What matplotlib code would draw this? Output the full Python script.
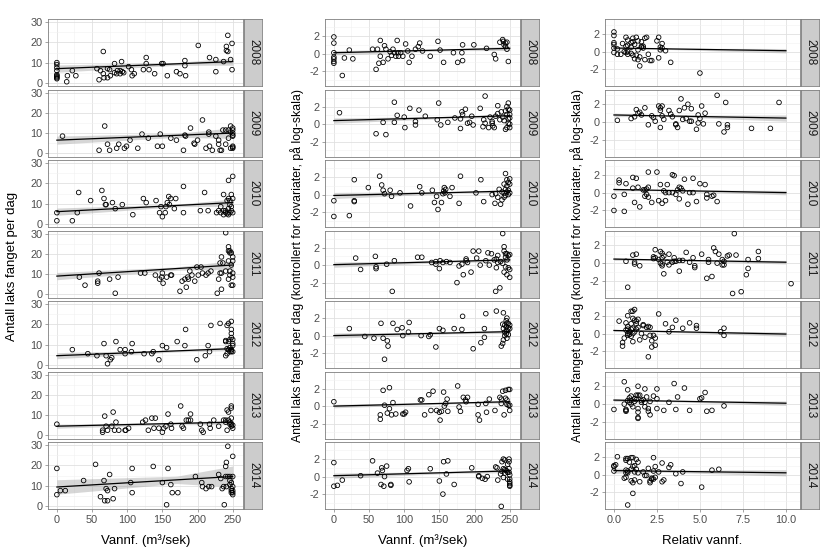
import numpy as np
import matplotlib
matplotlib.use("Agg")
import matplotlib.pyplot as plt
from matplotlib.ticker import MultipleLocator, FormatStrFormatter

plt.rcParams["font.family"] = ["Liberation Sans", "DejaVu Sans"]
plt.rcParams["axes.unicode_minus"] = False

years = [2008, 2009, 2010, 2011, 2012, 2013, 2014]

# column 1: raw catch per day vs water flow (m3/s)
raw_2008 = [(0,10),(0,9),(0,7.5),(0,6),(0,4),(0,3.5),(0,3),(0,2.5),(0,2),(14,0.5),(15,3.5),(22,6),(27,3.5),(57,7),(60,1.5),(62,6),(66,15.5),(66,4.5),(67,2.5),(72,7),(72,2.5),(75,6.5),(76,3.5),(82,9.5),(82,5),(85,4.5),(86,6),(90,4.5),(90,6),(92,10.5),(93,5.5),(95,5),(102,8),(106,6.5),(107,3.5),(110,4.5),(123,6.5),(127,12.5),(127,9.5),(131,6.5),(139,4.5),(149,9.5),(151,9.5),(157,3.5),(170,5.5),(175,4.5),(182,11),(182,8.5),(183,3.5),(201,18.5),(217,12.5),(226,11.5),(226,5.5),(237,10.5),(241,16),(241,18),(243,23.5),(243,15.5),(247,11.5),(249,19.5),(249,6.5)]
raw_2009 = [(8,8.5),(60,1.5),(68,13.5),(72,4.5),(75,1.5),(85,2.5),(88,4.5),(96,2.5),(99,3.5),(104,6.5),(115,2.5),(121,9.5),(130,7.5),(143,3.5),(147,9.5),(150,3.5),(162,7.5),(170,6.5),(180,1.5),(182,9),(183,8.5),(190,12.5),(195,5),(196,4.5),(200,6.5),(207,16.5),(212,2.5),(216,10.5),(216,9.5),(217,3.5),(221,1.5),(226,8.5),(230,6.5),(230,4.5),(232,1.5),(234,1.5),(236,11.5),(240,11.5),(240,4.5),(244,11.5),(244,7.5),(247,13.5),(247,10.5),(247,2.5),(250,12.5),(250,11.5),(250,10),(250,9),(250,8.5),(250,3.5),(250,3),(250,2.5)]
raw_2010 = [(0,5.5),(0,1.5),(22,1.5),(29,5.5),(31,15.5),(48,11.5),(64,16.5),(67,12.5),(69,9.5),(70,9.5),(79,10.5),(83,7.5),(93,9.5),(108,4.5),(123,12.5),(127,10.5),(141,11.5),(146,5.5),(148,8.5),(150,3.5),(154,5.5),(155,8.5),(157,10.5),(159,13.5),(160,9.5),(162,12.5),(167,7.5),(169,12.5),(180,18.5),(180,5.5),(204,6.5),(210,15.5),(215,6.5),(227,5.5),(230,6.5),(233,8.5),(233,5.5),(237,14.5),(237,6.5),(237,4.5),(240,6.5),(240,5.5),(242,11.5),(242,5),(244,21.5),(244,12.5),(244,7.5),(244,4.5),(246,11.5),(246,9.5),(246,5.5),(248,14.5),(248,8.5),(248,6.5),(250,23.5),(250,12.5),(250,5.5)]
raw_2011 = [(32,8.5),(40,4.5),(58,6.5),(58,5.5),(60,10.5),(75,7.5),(83,0.5),(87,8.5),(119,10.5),(125,10.5),(140,9.5),(146,7.5),(149,8.5),(150,10.5),(151,5.5),(156,8.5),(162,9.5),(163,9.5),(175,1.5),(178,6.5),(182,7.5),(184,3.5),(186,8.5),(187,7.5),(189,11.5),(192,9.5),(196,6.5),(199,13.5),(201,9.5),(205,13.5),(207,10.5),(212,9.5),(215,10.5),(219,11.5),(228,0.5),(230,7.5),(232,15.5),(232,10.5),(234,18.5),(234,10.5),(234,2.5),(236,15.5),(240,30.5),(240,11.5),(244,23.5),(244,21.5),(244,16.5),(244,7.5),(246,21.5),(246,20.5),(246,11.5),(246,9.5),(248,20.5),(248,14.5),(248,4.5),(250,18.5),(250,16.5),(250,10.5),(250,8.5),(250,4.5)]
raw_2012 = [(22,7.5),(44,5.5),(57,4.5),(67,10.5),(70,4.5),(72,0.5),(76,2.5),(78,3.5),(84,11.5),(90,7.5),(97,7.5),(97,5.5),(106,6.5),(107,10.5),(124,5.5),(135,5.5),(137,6.5),(145,2.5),(150,9.5),(156,8.5),(171,11.5),(182,9.5),(183,17.5),(199,2.5),(211,4.5),(215,9.5),(217,6.5),(219,19.5),(232,20.5),(240,4.5),(240,11.5),(240,12),(242,19.5),(242,5.5),(242,8),(244,20.5),(244,7.5),(244,11.5),(246,12.5),(246,8.5),(246,6.5),(248,21.5),(248,17.5),(248,15.5),(248,13.5),(248,7.5),(248,6.5),(250,12.5),(250,10.5),(250,9.5),(250,6.5)]
raw_2013 = [(0,5.5),(65,2.5),(65,1.5),(68,9.5),(70,4.5),(72,2.5),(78,4.5),(80,11.5),(82,2.5),(84,6.5),(88,2.5),(97,2.5),(98,2.5),(102,3.5),(122,6.5),(126,7.5),(130,2.5),(135,8.5),(138,3.5),(140,8.5),(145,3.5),(150,1.5),(152,3.5),(155,4.5),(158,10.5),(162,5.5),(163,3.5),(176,14.5),(178,4.5),(180,3.5),(184,7.5),(187,7.5),(190,10.5),(190,7.5),(204,5.5),(206,2.5),(208,1.5),(217,5.5),(218,3.5),(223,7.5),(230,4.5),(237,7.5),(240,7.5),(240,6.5),(242,12.5),(242,2.5),(244,11.5),(244,7.5),(246,6.5),(246,5.5),(248,14.5),(248,13.5),(248,8.5),(248,5.5),(248,4.5),(250,5),(250,3.5)]
raw_2014 = [(0,18.5),(0,5.5),(5,7.5),(12,7.5),(38,12.5),(55,20.5),(62,4.5),(67,12.5),(68,2.5),(70,8.5),(72,2.5),(72,7.5),(75,15.5),(80,3.5),(82,8.5),(105,11.5),(107,18.5),(107,6.5),(137,19.5),(150,11.5),(156,0.5),(158,18.5),(162,10.5),(164,6.5),(172,6.5),(197,14.5),(206,11.5),(207,9.5),(212,8.5),(216,9.5),(220,9.5),(230,15.5),(233,13.5),(235,8.5),(237,9.5),(238,0.5),(240,19.5),(240,14.5),(241,21.5),(241,9.5),(243,29.5),(243,14.5),(246,14.5),(246,12.5),(246,10.5),(248,11.5),(248,8.5),(248,6.5),(248,7.5),(250,24.5),(250,14.5),(250,9.5),(250,7.5),(250,6.5),(250,5.5)]

# column 2: adjusted catch (log scale) vs water flow
adj_2008 = [(0,1.9),(0,1.2),(0,0.1),(0,-0.4),(0,-0.6),(0,-0.9),(0,-1.1),(12,-2.5),(15,-0.5),(22,0.4),(27,-0.6),(55,0.5),(60,-1.8),(62,0.5),(64,-1.1),(66,1.5),(66,-0.3),(70,-1.0),(72,0.9),(74,0.5),(77,-0.6),(80,0.2),(82,-0.2),(84,0.5),(86,0.1),(88,-0.3),(90,1.5),(91,0.1),(92,-0.3),(95,0.1),(98,-0.3),(102,1.1),(105,0.3),(107,-1.0),(111,-0.3),(116,0.5),(120,0.8),(122,1.2),(126,0.3),(137,-0.3),(148,1.4),(151,0.4),(156,-1.0),(170,0.1),(176,-1.0),(182,0.1),(183,-0.8),(183,1.0),(199,1.0),(217,0.6),(228,-0.1),(230,-0.6),(236,1.3),(240,1.6),(241,1.4),(242,1.0),(244,1.2),(244,0.8),(246,0.5),(246,1.3),(248,-0.9)]
adj_2009 = [(8,1.3),(60,-1.1),(70,0.2),(74,-1.2),(86,2.5),(86,0.2),(90,1.0),(100,0.8),(101,-0.4),(108,1.8),(116,0.3),(116,-0.1),(121,1.6),(130,0.9),(147,0.5),(149,2.4),(152,-0.1),(162,0.2),(172,0.7),(180,0.6),(180,-0.5),(182,1.4),(183,1.1),(187,1.7),(190,0.1),(193,0.2),(196,0.9),(198,-0.1),(208,1.8),(212,-0.3),(213,0.5),(215,3.2),(215,0.1),(220,-0.4),(222,0.8),(225,0.3),(225,0.1),(226,-0.2),(228,-0.4),(230,0.9),(233,2.1),(233,1.2),(236,0.5),(238,1.4),(240,0.8),(242,0.4),(244,1.5),(244,-0.6),(246,2.0),(246,1.1),(246,-0.4),(248,2.4),(248,1.7),(248,0.6),(248,0.1),(250,1.6),(250,1.1),(250,0.7),(250,0.0),(250,-0.4)]
adj_2010 = [(0,-0.7),(0,-2.5),(22,-2.4),(29,1.7),(29,-0.7),(29,-0.8),(49,0.8),(65,2.1),(68,1.1),(70,0.5),(72,0.1),(80,0.5),(82,-0.2),(94,0.2),(109,-1.3),(122,0.9),(125,0.2),(140,0.5),(143,-0.9),(146,-0.2),(148,-1.7),(153,-0.9),(155,0.1),(156,0.4),(157,0.8),(158,0.2),(159,0.6),(165,-0.2),(168,0.8),(178,-1.0),(180,2.1),(202,0.2),(209,1.7),(213,-0.8),(225,0.0),(229,-1.0),(230,0.1),(233,-0.3),(235,0.6),(237,-1.1),(239,0.3),(239,-0.6),(242,1.2),(242,0.2),(242,-0.3),(244,2.4),(244,0.6),(244,-0.1),(246,1.7),(246,1.0),(246,0.3),(248,1.4),(248,0.5),(248,0.0),(250,1.8),(250,1.2),(250,0.2)]
adj_2011 = [(31,0.8),(38,-0.5),(59,1.0),(60,-0.2),(60,-0.4),(75,0.1),(83,-3.0),(86,0.5),(119,0.9),(125,0.9),(139,0.3),(145,0.1),(145,0.4),(150,-0.4),(151,0.5),(155,0.3),(160,0.4),(165,0.3),(175,-2.0),(178,-0.1),(182,0.1),(184,-1.1),(188,0.5),(188,0.7),(190,0.3),(195,-0.8),(198,1.6),(203,0.8),(206,1.6),(208,0.0),(216,0.5),(219,1.4),(221,0.0),(224,1.3),(228,0.6),(230,-3.0),(231,-0.3),(231,0.7),(233,1.1),(233,0.3),(236,-2.6),(237,0.4),(240,3.6),(240,0.2),(242,2.1),(242,1.6),(242,-0.8),(244,1.3),(244,0.9),(244,-0.2),(246,1.3),(246,0.6),(246,-1.1),(248,1.1),(248,-0.3),(250,1.2),(250,-0.5),(250,-1.4)]
adj_2012 = [(22,0.8),(44,-0.1),(57,-0.3),(67,1.4),(70,-0.3),(72,-2.7),(76,-0.6),(77,-1.2),(84,1.4),(90,0.7),(97,0.9),(98,0.0),(106,0.4),(107,1.5),(124,0.0),(135,-0.1),(137,0.1),(145,-1.3),(150,0.8),(155,0.6),(171,0.8),(182,0.7),(183,2.2),(198,-1.5),(209,-0.8),(214,0.8),(214,-0.2),(216,2.5),(231,2.8),(238,-1.2),(240,1.3),(240,-0.9),(241,2.6),(241,0.8),(241,-0.5),(243,1.2),(243,0.4),(243,0.0),(245,1.7),(245,1.0),(245,0.2),(246,2.0),(246,1.4),(246,0.6),(246,-0.3),(248,1.4),(248,0.9),(248,0.1),(250,1.2),(250,0.8)]
adj_2013 = [(0,0.5),(66,-1.0),(66,-1.5),(70,1.8),(72,0.1),(76,-0.8),(79,2.1),(79,-0.3),(82,-1.0),(84,0.4),(88,-0.9),(98,-0.9),(100,-0.9),(102,-0.7),(123,0.7),(125,0.7),(129,-1.0),(135,1.3),(138,-0.5),(141,1.7),(146,-0.5),(150,-0.7),(151,-1.6),(153,-0.6),(156,1.6),(157,0.0),(159,0.3),(161,0.8),(162,-0.6),(176,2.3),(178,-0.1),(180,-0.6),(184,1.0),(187,0.7),(188,0.5),(190,1.0),(205,0.2),(205,-1.0),(207,-1.6),(216,0.3),(217,-0.7),(221,0.8),(229,-0.5),(236,1.0),(238,0.8),(238,0.3),(240,1.7),(242,-1.0),(244,1.8),(244,0.9),(246,0.7),(246,0.2),(248,1.9),(248,0.1),(250,1.9),(250,0.1),(250,-0.5)]
adj_2014 = [(0,1.6),(0,-1.1),(5,-1.0),(12,-0.4),(38,0.1),(55,1.8),(62,0.4),(67,-0.9),(68,1.0),(69,0.7),(71,-1.1),(72,0.0),(75,1.2),(81,-0.9),(81,-1.0),(104,0.7),(106,0.9),(107,-0.6),(137,0.9),(150,-0.5),(155,-2.0),(156,1.7),(162,1.8),(160,0.3),(171,-0.9),(196,1.0),(206,0.1),(206,0.0),(211,-0.2),(215,-0.3),(218,0.0),(230,1.1),(232,1.0),(233,-0.4),(237,0.3),(238,-3.4),(239,1.7),(239,0.6),(241,2.0),(241,0.9),(241,-0.1),(243,1.9),(243,0.8),(243,0.4),(245,0.7),(247,1.4),(247,0.5),(247,-0.3),(249,2.0),(249,1.7),(249,0.9),(249,0.5),(250,0.2),(250,-0.3),(250,-0.6),(250,-0.8),(250,-1.0),(250,-1.1)]

# column 3: adjusted catch vs relative water flow
rel_2008 = [(0,2.2),(0,1.8),(0,1.0),(0,0.8),(0,0.4),(0,-0.1),(0.2,0.3),(0.2,-0.3),(0.4,-0.3),(0.5,0.9),(0.6,0.0),(0.7,1.6),(0.7,0.6),(0.7,-0.1),(0.8,1.3),(0.8,0.7),(0.8,0.0),(0.8,-0.3),(1.0,1.0),(1.0,0.5),(1.0,-0.2),(1.1,1.5),(1.1,1.1),(1.1,-0.4),(1.2,0.8),(1.2,-0.8),(1.3,1.6),(1.3,-0.4),(1.4,1.2),(1.4,0.2),(1.4,-0.9),(1.5,-0.6),(1.5,-1.6),(1.6,1.1),(1.6,0.5),(1.6,0.6),(1.7,0.6),(1.7,0.4),(1.8,1.5),(1.8,-0.9),(1.9,1.6),(2.0,-0.3),(2.1,-1.0),(2.2,-1.0),(2.5,1.2),(2.6,1.6),(2.6,-0.7),(2.7,0.5),(2.7,0.2),(2.8,0.9),(2.8,0.4),(3.0,0.1),(3.3,-1.2),(5.0,-2.4)]
rel_2009 = [(0.2,0.2),(1.0,0.4),(1.2,0.6),(1.3,1.4),(1.4,1.0),(1.5,1.1),(1.6,0.8),(1.8,1.6),(2.0,-0.3),(2.2,0.7),(2.3,0.5),(2.4,0.1),(2.6,1.8),(2.7,1.6),(2.7,1.3),(2.7,-0.6),(2.8,1.8),(2.8,0.7),(2.9,0.3),(3.2,1.3),(3.3,0.9),(3.4,0.6),(3.6,-0.2),(3.6,-0.3),(3.7,-0.6),(3.8,1.3),(3.9,2.6),(4.0,0.3),(4.1,1.6),(4.2,0.4),(4.3,2.0),(4.4,0.1),(4.5,1.5),(4.5,0.1),(4.8,-0.8),(4.9,0.8),(4.9,-0.1),(5.0,0.4),(5.1,1.8),(5.2,-0.2),(5.3,1.0),(6.0,3.0),(6.1,-0.2),(6.4,-1.1),(6.5,2.2),(6.6,-0.3),(6.6,-0.6),(8.0,-0.7),(9.1,-0.7),(9.6,2.2)]
rel_2010 = [(0,-0.4),(0,-2.0),(0.3,1.4),(0.3,1.1),(0.6,-0.2),(0.6,-2.1),(0.7,1.0),(1.1,1.7),(1.1,0.5),(1.2,-1.1),(1.3,1.6),(1.4,0.6),(1.5,-1.6),(1.7,0.3),(1.8,0.3),(1.8,-0.4),(1.9,0.4),(1.9,-0.2),(2.0,2.3),(2.0,0.6),(2.0,-0.5),(2.2,-1.1),(2.5,2.3),(2.6,-0.9),(2.7,0.9),(2.8,-1.2),(2.9,0.2),(3.0,-0.9),(3.0,0.0),(3.1,0.9),(3.2,0.0),(3.4,2.0),(3.4,0.0),(3.5,1.9),(3.6,-0.2),(3.7,0.3),(3.8,0.6),(3.8,-0.7),(3.9,0.5),(4.0,0.2),(4.1,1.5),(4.3,-1.3),(4.4,0.0),(4.6,1.6),(4.6,0.0),(4.8,-1.0),(5.0,1.0),(5.3,0.9),(5.4,-0.2),(5.4,-0.6),(5.7,-0.4),(5.8,-0.3),(6.0,-1.0)]
rel_2011 = [(0.7,0.2),(0.8,-2.7),(1.1,0.9),(1.2,0.1),(1.2,-0.1),(1.3,1.0),(1.5,-0.3),(2.3,0.5),(2.3,0.7),(2.4,1.5),(2.4,0.6),(2.6,0.4),(2.7,1.3),(2.7,0.0),(2.8,1.1),(2.8,0.6),(2.8,-0.1),(2.8,-0.3),(2.9,0.8),(2.9,-1.2),(3.1,0.1),(3.2,1.0),(3.2,-0.2),(3.4,0.1),(3.5,0.6),(3.5,0.2),(3.6,0.2),(3.8,0.3),(3.8,-0.9),(4.0,0.3),(4.2,1.2),(4.4,0.1),(4.6,0.6),(4.7,-0.3),(4.7,-0.5),(5.1,1.0),(5.4,-1.7),(5.5,0.4),(5.5,0.1),(5.7,-1.5),(5.8,1.7),(5.9,1.3),(6.0,0.0),(6.1,1.0),(6.3,0.4),(6.3,-0.2),(6.4,0.2),(6.4,-0.2),(6.6,0.8),(6.7,0.9),(6.9,-3.4),(7.0,3.3),(7.1,0.9),(7.4,-3.2),(7.7,-1.3),(7.8,0.4),(7.8,-0.6),(8.4,1.3),(8.4,0.5),(10.3,-2.3)]
rel_2012 = [(0.3,1.4),(0.5,-1.0),(0.5,-1.4),(0.6,-0.5),(0.7,1.2),(0.7,0.4),(0.8,0.8),(0.8,0.0),(0.8,2.0),(0.8,0.5),(0.8,-0.2),(0.9,0.2),(0.9,-0.1),(1.0,2.5),(1.0,1.1),(1.0,0.5),(1.0,-0.3),(1.1,2.5),(1.1,1.7),(1.1,0.6),(1.1,0.0),(1.1,-0.9),(1.2,2.7),(1.2,1.5),(1.2,0.2),(1.3,1.4),(1.3,1.1),(1.3,0.5),(1.4,0.7),(1.4,1.6),(1.5,-0.7),(1.6,0.0),(1.7,1.0),(1.7,0.9),(1.8,-0.4),(1.9,0.7),(2.0,-2.6),(2.0,0.8),(2.1,0.7),(2.1,-0.2),(2.2,-0.8),(2.2,-1.5),(2.3,-0.2),(2.4,-0.5),(2.4,-1.3),(2.6,2.2),(3.0,1.1),(3.2,0.2),(3.4,0.7),(3.6,1.5),(4.0,0.6),(4.4,1.2),(4.8,0.6),(4.8,0.9),(6.2,0.2),(6.4,0.6),(6.4,-0.2)]
rel_2013 = [(0,-0.6),(0.6,2.5),(0.6,0.0),(0.7,-0.7),(0.7,-0.8),(0.7,-0.6),(0.8,0.4),(0.8,1.6),(0.9,0.7),(0.9,0.2),(1.0,0.9),(1.0,0.4),(1.0,0.0),(1.1,-0.3),(1.2,0.6),(1.2,0.3),(1.3,1.0),(1.3,0.5),(1.4,2.0),(1.4,1.0),(1.4,-0.5),(1.4,-0.9),(1.4,-1.5),(1.4,-1.6),(1.5,1.0),(1.6,0.4),(1.6,0.2),(1.7,0.5),(1.8,0.2),(1.8,-0.3),(1.8,1.7),(1.9,0.8),(2.0,-0.5),(2.0,-0.8),(2.1,0.3),(2.1,-1.2),(2.3,0.9),(2.5,1.7),(2.5,0.6),(2.5,-0.5),(2.9,-0.7),(3.2,0.2),(3.5,2.3),(3.6,-0.6),(3.7,0.8),(4.1,1.8),(4.4,-0.7),(5.0,0.6),(5.1,0.7),(5.3,1.3),(5.4,-0.8),(5.7,-0.7),(6.4,-0.2)]
rel_2014 = [(0,1.0),(0,0.9),(0,0.4),(0.1,1.1),(0.2,2.0),(0.6,-0.4),(0.7,1.8),(0.7,1.6),(0.7,0.5),(0.7,0.2),(0.7,-0.3),(0.8,1.8),(0.8,0.4),(0.8,0.2),(0.8,-3.4),(0.9,1.4),(1.0,1.9),(1.0,0.6),(1.0,-0.7),(1.1,1.9),(1.1,0.9),(1.1,-0.9),(1.1,-2.1),(1.2,1.0),(1.2,0.3),(1.2,-0.6),(1.3,1.7),(1.3,0.6),(1.4,1.4),(1.4,0.2),(1.5,-0.8),(1.7,0.3),(1.8,-0.1),(1.9,-0.1),(2.0,0.7),(2.1,-0.7),(2.1,-0.9),(2.2,-0.5),(2.2,-0.4),(2.3,0.4),(2.3,-0.5),(2.3,1.9),(2.4,0.9),(2.4,-0.3),(2.6,0.3),(2.8,1.3),(2.8,-0.8),(2.9,-0.6),(3.2,0.8),(3.3,1.1),(3.6,0.1),(3.9,-1.0),(4.0,0.3),(5.1,-1.4),(5.7,0.5),(6.1,0.6)]

# fitted line (value at start, value at end) and band half-width (start, middle, end)
raw_fit = [(7.0, 10.5), (6.5, 10.0), (6.0, 10.5), (9.0, 14.5), (4.5, 8.0), (4.5, 6.5), (9.3, 14.5)]
raw_band = [(1.8, 0.7, 1.8), (2.0, 1.0, 2.6), (1.8, 0.6, 1.8), (1.8, 0.8, 2.2), (1.5, 0.5, 1.0), (1.0, 0.5, 1.0), (3.6, 1.8, 5.2)]
adj_fit = [(0.1, 0.6), (0.4, 0.95), (-0.1, 0.4), (0.05, 0.6), (0.0, 0.45), (0.0, 0.5), (0.1, 0.65)]
adj_band = [(0.25, 0.1, 0.25), (0.3, 0.1, 0.2), (0.35, 0.1, 0.2), (0.3, 0.1, 0.25), (0.3, 0.1, 0.2), (0.2, 0.08, 0.15), (0.3, 0.1, 0.2)]
rel_fit = [(0.4, 0.1), (0.8, 0.45), (0.35, 0.0), (0.45, 0.1), (0.35, -0.05), (0.45, 0.1), (0.45, 0.2)]
rel_band = [(0.15, 0.05, 0.25), (0.2, 0.05, 0.35), (0.15, 0.05, 0.25), (0.15, 0.05, 0.2), (0.12, 0.05, 0.25), (0.15, 0.05, 0.25), (0.3, 0.1, 0.35)]

flow_label = "Vannf. (m³/sek)"
rel_label = "Relativ vannf."
raw_ylabel = "Antall laks fanget per dag"
adj_ylabel = "Antall laks fanget per dag (kontrollert for kovariater, på log-skala)"

W, H = 840, 560
fig = plt.figure(figsize=(W / 100, H / 100), dpi=100)


def px_axes(left, top, width, height):
    return fig.add_axes([left / W, 1 - (top + height) / H, width / W, height / H])


columns = [
    dict(left=48, pts=[raw_2008, raw_2009, raw_2010, raw_2011, raw_2012, raw_2013, raw_2014],
         fit=raw_fit, band=raw_band, xlim=(-12.6, 264.6), ylim=(-1.6, 31.6),
         xmaj=50, xmin=25, ymaj=10, ymin=5, xfit=(0, 170, 250), xfmt="%d",
         xlabel=flow_label, ylabel=raw_ylabel, ylab_x=12, ylab_size=9.5),
    dict(left=325, pts=[adj_2008, adj_2009, adj_2010, adj_2011, adj_2012, adj_2013, adj_2014],
         fit=adj_fit, band=adj_band, xlim=(-12.6, 264.6), ylim=(-3.7, 3.95),
         xmaj=50, xmin=25, ymaj=2, ymin=1, xfit=(0, 170, 250), xfmt="%d",
         xlabel=flow_label, ylabel=adj_ylabel, ylab_x=297, ylab_size=8.8),
    dict(left=605, pts=[rel_2008, rel_2009, rel_2010, rel_2011, rel_2012, rel_2013, rel_2014],
         fit=rel_fit, band=rel_band, xlim=(-0.52, 10.82), ylim=(-3.85, 3.65),
         xmaj=2.5, xmin=1.25, ymaj=2, ymin=1, xfit=(0, 2.5, 10), xfmt="%.1f",
         xlabel=rel_label, ylabel=adj_ylabel, ylab_x=577, ylab_size=8.8),
]

panel_w, panel_h, strip_w = 195, 67, 18
grey50 = "#7F7F7F"

for col in columns:
    for i, year in enumerate(years):
        top = 19 + i * 70.5
        ax = px_axes(col["left"], top, panel_w, panel_h)
        ax.set_axisbelow(True)
        ax.xaxis.set_major_locator(MultipleLocator(col["xmaj"]))
        ax.xaxis.set_minor_locator(MultipleLocator(col["xmin"]))
        ax.yaxis.set_major_locator(MultipleLocator(col["ymaj"]))
        ax.yaxis.set_minor_locator(MultipleLocator(col["ymin"]))
        ax.xaxis.set_major_formatter(FormatStrFormatter(col["xfmt"]))
        ax.grid(which="major", color="#E0E0E0", lw=0.6)
        ax.grid(which="minor", color="#F1F1F1", lw=0.4)

        x0, xm, x1 = col["xfit"]
        xs = np.linspace(x0, x1, 80)
        line = np.interp(xs, [x0, x1], col["fit"][i])
        half = np.interp(xs, [x0, xm, x1], col["band"][i])
        ax.fill_between(xs, line - half, line + half, color="#999999", alpha=0.4, lw=0, zorder=1)
        ax.plot(xs, line, color="black", lw=0.9, zorder=2)

        px, py = np.array(col["pts"][i]).T
        ax.scatter(px, py, s=11, facecolors="none", edgecolors="black", linewidths=0.6, zorder=3)

        ax.set_xlim(col["xlim"])
        ax.set_ylim(col["ylim"])
        for sp in ax.spines.values():
            sp.set_color(grey50)
            sp.set_linewidth(0.6)
        ax.tick_params(which="major", length=2.5, width=0.5, color=grey50,
                       labelsize=7.8, labelcolor="#4D4D4D", pad=1.5)
        ax.tick_params(which="minor", length=0)
        if i < len(years) - 1:
            ax.tick_params(axis="x", which="major", length=0, labelbottom=False)

        sax = px_axes(col["left"] + panel_w + 1, top, strip_w, panel_h)
        sax.set_facecolor("#CCCCCC")
        sax.set_xticks([])
        sax.set_yticks([])
        for sp in sax.spines.values():
            sp.set_color(grey50)
            sp.set_linewidth(0.6)
        sax.text(0.5, 0.5, str(year), rotation=270, ha="center", va="center",
                 fontsize=8.5, color="#1A1A1A", transform=sax.transAxes)

    fig.text((col["left"] + panel_w / 2) / W, 1 - 541 / H, col["xlabel"],
             ha="center", va="center", fontsize=9.5)
    fig.text(col["ylab_x"] / W, 1 - 266 / H, col["ylabel"], rotation=90,
             ha="center", va="center", fontsize=col["ylab_size"])

fig.savefig("out.png", dpi=100)
